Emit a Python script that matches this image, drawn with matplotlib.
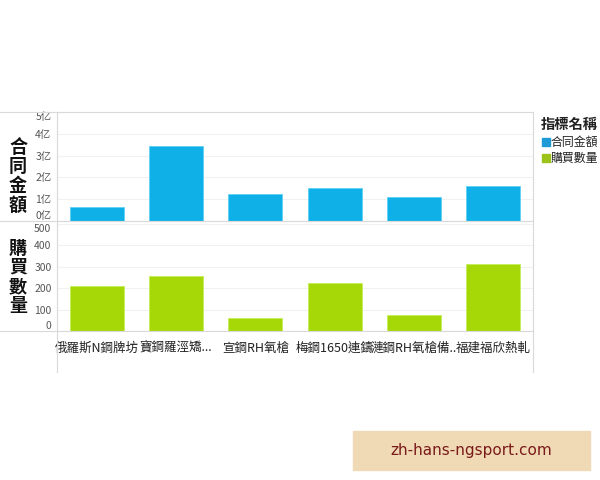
import matplotlib
matplotlib.use("Agg")
import matplotlib.pyplot as plt
from matplotlib.lines import Line2D
from matplotlib.patches import Rectangle

plt.rcParams["font.family"] = ["Noto Sans CJK TC", "DejaVu Sans"]

# data
projects = ["俄羅斯N鋼牌坊", "寶鋼羅涇矯...", "宣鋼RH氧槍", "梅鋼1650連鑄",
            "漣鋼RH氧槍備..", "福建福欣熱軋"]
amount_yi = [0.64, 3.43, 1.22, 1.51, 1.11, 1.60]      # 合同金額 (亿)
quantity = [210, 258, 59, 223, 75, 314]                # 購買數量
amount_ticks = [0, 1, 2, 3, 4, 5]
quantity_ticks = [0, 100, 200, 300, 400, 500]

BLUE = "#0fb0e8"
GREEN = "#a6d807"
LINE = "#d9d9d9"

fig = plt.figure(figsize=(6, 4.8), dpi=100)
W, H = 600, 480


def fx(px):
    return px / W


def fy(py):
    return 1 - py / H


left, right = 57, 533
ax_top = fig.add_axes([fx(left), fy(221), fx(right - left), (221 - 112) / H])
ax_bot = fig.add_axes([fx(left), fy(331), fx(right - left), (331 - 224) / H])

x = range(len(projects))
ax_top.bar(x, amount_yi, width=0.68, color=BLUE, edgecolor="#5fd0f5", linewidth=0.6)
ax_bot.bar(x, quantity, width=0.68, color=GREEN, edgecolor="#c4ee5a", linewidth=0.6)

for ax, ticks, labels in ((ax_top, amount_ticks, [f"{t}亿" for t in amount_ticks]),
                          (ax_bot, quantity_ticks, [str(t) for t in quantity_ticks])):
    ax.set_xlim(-0.5, len(projects) - 0.5)
    ax.set_ylim(ticks[0], ticks[-1])
    ax.set_yticks(ticks)
    ax.set_yticklabels(labels, fontsize=7.5, color="#555555")
    tl = ax.get_yticklabels()
    tl[0].set_va("bottom")
    tl[-1].set_va("top")
    ax.tick_params(axis="y", length=0, pad=4)
    ax.tick_params(axis="x", length=0)
    ax.set_xticks([])
    ax.grid(axis="y", color="#f1f1f1", linewidth=0.8)
    ax.set_axisbelow(True)
    for s in ax.spines.values():
        s.set_visible(False)

# category labels under the lower panel
for i, name in enumerate(projects):
    ax_bot.text(i, -0.16, name, transform=ax_bot.get_xaxis_transform(),
                ha="center", va="center", fontsize=9, color="#222222")

# frame lines
for py in (112, 221, 331):
    fig.add_artist(Line2D([0, fx(right)], [fy(py), fy(py)], color=LINE, lw=0.8))
for px in (left, right):
    fig.add_artist(Line2D([fx(px), fx(px)], [fy(112), fy(372)], color=LINE, lw=0.8))

# stacked vertical axis titles
fig.text(fx(18), fy(176), "合\n同\n金\n額", ha="center", va="center",
         fontsize=13, fontweight="bold", linespacing=1.02, color="#111111")
fig.text(fx(18), fy(277), "購\n買\n數\n量", ha="center", va="center",
         fontsize=13, fontweight="bold", linespacing=1.02, color="#111111")

# legend, squeezed to fit inside the right edge
fig.text(fx(541), fy(125), "指標名稱", ha="left", va="center", fontsize=10.3,
         fontweight="bold", color="#222222")
for py, label, col in ((142, "合同金額", "#1e9bd7"), (158, "購買數量", "#9cc31a")):
    fig.add_artist(Rectangle((fx(542), fy(py + 4)), fx(8), 8 / H, color=col))
    fig.text(fx(551), fy(py), label, ha="left", va="center", fontsize=8.6, color="#222222")

# watermark box
fig.add_artist(Rectangle((fx(353), fy(470)), fx(237), 39 / H, color="#f0dab5"))
fig.text(fx(471), fy(450), "zh-hans-ngsport.com", ha="center", va="center",
         fontsize=11, color="#7a1a1a", family="DejaVu Sans")

fig.savefig("out.png", dpi=100)
